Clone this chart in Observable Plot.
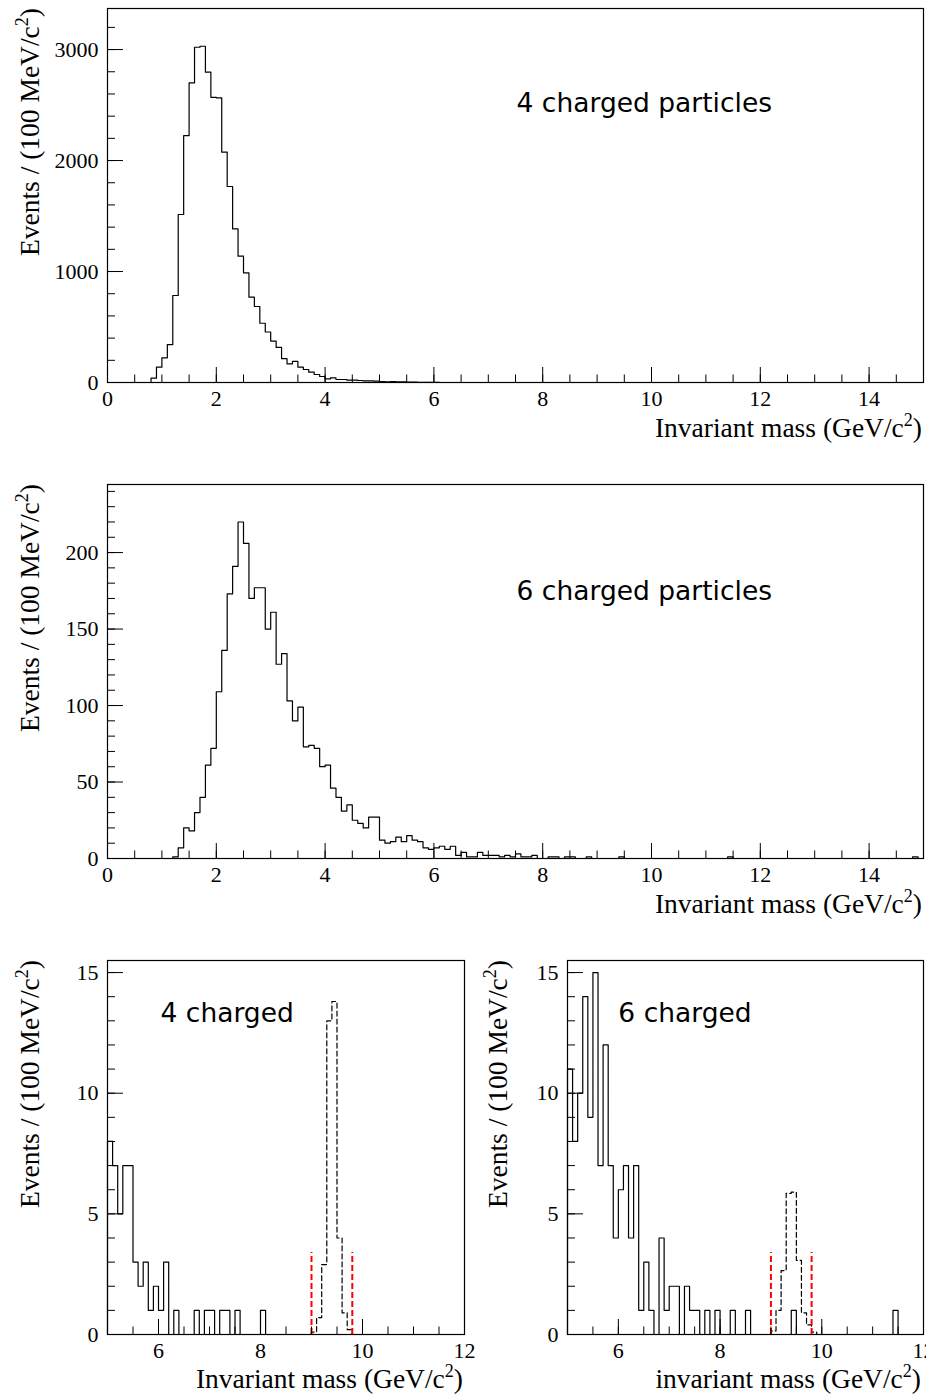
<!DOCTYPE html>
<html><head><meta charset="utf-8">
<script src="https://cdn.jsdelivr.net/npm/d3@7"></script>
<script src="https://cdn.jsdelivr.net/npm/@observablehq/plot@0.6"></script>
<style>
body{margin:0;background:#fff;}
#root{position:relative;width:926px;height:1398px;overflow:hidden;background:#fff;}
#root svg{position:absolute;}
</style></head><body><div id="root"></div>
<script>
// ---------------- data ----------------
const binWidth = 0.1;

// Top panel: 4 charged particles (events per 100 MeV bin)
const top4Start = 0.8;
const top4Counts = [39,138,222,342,784,1514,2225,2700,3021,3030,
  2796,2570,2565,2075,1766,1385,1138,988,769,685,
  534,455,373,316,215,168,190,138,117,93,
  72,54,33,42,27,27,21,21,18,15,
  15,12,9,6,9,6,6,3,3,2,
  2,1,1];

// Middle panel: 6 charged particles
const top6Start = 1.2;
const top6Counts = [1,7,20,18,30,40,61,72,109,136,
  173,191,220,206,170,177,177,150,161,127,
  134,103,90,99,73,74,72,60,61,46,
  40,31,35,25,23,20,27,27,12,10,
  11,14,11,15,12,11,7,6,7,8,
  6,8,2,4,1,1,4,2,2,2,
  1,2,1,3,1,1,2,0,0,1,
  1,0,1,1,0,0,1,0,0,0,
  0,0,1];
const top6FarX = [11.4, 14.8];
const top6FarN = [1, 1];

// Bottom-left: 4 charged, zoom 5-12 GeV
const bot4Start = 5.0;
const bot4Counts = [8,7,5,7,7,3,2,3,1,2,
  1,3,0,1,0,0,0,1,0,1,
  1,0,1,1,0,1,0,0,0,0,
  1];
const bot4McStart = 9.0;
const bot4Mc = [0.1,0.7,2.9,13.0,13.8,4.0,0.9,0.2];

// Bottom-right: 6 charged, zoom 5-12 GeV
const bot6Start = 5.0;
const bot6Counts = [11,8,10,14,9,15,7,12,7,4,
  6,7,4,7,1,3,1,0,4,1,
  2,2,0,2,1,1,0,1,0,1,
  0,0,1,0,0,1,0,0,0,0,
  0,0,0,0,1,0,0,0,0,0,
  0,0,0,0,0,0,0,0,0,0,
  0,0,0,0,1];
const bot6McStart = 9.0;
const bot6Mc = [0.15,1.0,2.65,5.85,5.9,3.07,0.9,0.4,0.1];

// signal window cuts (red dashed)
const cutX = [9.0, 9.8];
const cutTop = 3.4;

// tick labels
const xTicksFull = [0,2,4,6,8,10,12,14];
const xTicksZoom = [6,8,10,12];
const yTicks4 = [0,1000,2000,3000];
const yTicks6 = [0,50,100,150,200];
const yTicksZoom = [0,5,10,15];

const labels = {
  top4: "4 charged particles",
  top6: "6 charged particles",
  bot4: "4 charged",
  bot6: "6 charged",
  xTitle: "Invariant mass (GeV/c",
  xTitleLower: "invariant mass (GeV/c",
  yTitle: "Events / (100 MeV/c"
};

// ---------------- helpers ----------------
const r1 = v => Math.round(v * 100) / 100;

function histPoints(start, counts, lo, hi, extraX = [], extraN = []) {
  let pts = [];
  if (lo === undefined) {
    pts.push({x: r1(start), y: 0});
    counts.forEach((c, i) => pts.push({x: r1(start + i * binWidth), y: c}));
    const end = r1(start + counts.length * binWidth);
    pts.push({x: end, y: counts[counts.length - 1]});
    pts.push({x: end, y: 0});
    return pts;
  }
  const n = Math.round((hi - lo) / binWidth);
  const vals = new Map();
  counts.forEach((c, i) => vals.set(Math.round((start - lo) / binWidth) + i, c));
  extraX.forEach((x, j) => vals.set(Math.round((x - lo) / binWidth), extraN[j]));
  pts.push({x: lo, y: 0});
  for (let i = 0; i < n; i++) pts.push({x: r1(lo + i * binWidth), y: vals.get(i) || 0});
  pts.push({x: hi, y: vals.get(n - 1) || 0});
  pts.push({x: hi, y: 0});
  return pts;
}

function minorTicks(lo, hi, step) {
  return d3.range(Math.round((hi - lo) / step) + 1).map(i => r1(lo + i * step));
}

const serif = "Liberation Serif";
const sans = "DejaVu Sans";
const titleSize = 27.5;

function addTitles(svg, o) {
  const s = d3.select(svg);
  const t = s.append("text").attr("x", o.xTitleX).attr("y", o.xTitleY)
    .attr("text-anchor", "end").attr("font-family", serif).attr("font-size", titleSize).attr("fill", "black");
  t.append("tspan").text(o.xTitle);
  t.append("tspan").attr("font-size", 18).attr("dy", -11).text("2");
  t.append("tspan").attr("dy", 11).text(")");
  const g = s.append("g").attr("transform", `translate(${o.yTitleX},${o.yTitleY}) rotate(-90)`);
  const yt = g.append("text").attr("x", 0).attr("y", 0).attr("text-anchor", "end")
    .attr("font-family", serif).attr("font-size", titleSize).attr("fill", "black");
  yt.append("tspan").text(labels.yTitle);
  yt.append("tspan").attr("font-size", 18).attr("dy", -11).text("2");
  yt.append("tspan").attr("dy", 11).text(")");
}

function panel(o) {
  const [ml, mr, mt, mb] = o.margins;
  const pxX = (o.width - ml - mr) / (o.xDomain[1] - o.xDomain[0]);
  const pxY = (o.height - mt - mb) / (o.yDomain[1] - o.yDomain[0]);
  const x0 = o.xDomain[0], y0 = o.yDomain[0];
  const marks = [
    ...o.marks,
    Plot.ruleX(o.xMinor, {x: d => d, y1: y0, y2: y0 + 7.5 / pxY, stroke: "black", strokeWidth: 1}),
    Plot.ruleX(o.xMajor, {x: d => d, y1: y0, y2: y0 + 15 / pxY, stroke: "black", strokeWidth: 1}),
    Plot.ruleY(o.yMinor, {y: d => d, x1: x0, x2: x0 + 8 / pxX, stroke: "black", strokeWidth: 1}),
    Plot.ruleY(o.yMajor, {y: d => d, x1: x0, x2: x0 + 16 / pxX, stroke: "black", strokeWidth: 1}),
    Plot.axisX({ticks: o.xMajor, tickSize: 0, tickPadding: 8, label: null, tickFormat: d => String(d)}),
    Plot.axisY({ticks: o.yMajor, tickSize: 0, tickPadding: 9, label: null, tickFormat: d => String(d)}),
    Plot.frame({stroke: "black", strokeWidth: 1.2})
  ];
  const svg = Plot.plot({
    width: o.width, height: o.height,
    marginLeft: ml, marginRight: mr, marginTop: mt, marginBottom: mb,
    x: {domain: o.xDomain},
    y: {domain: o.yDomain},
    style: {fontFamily: serif, fontSize: "22px", background: "transparent", color: "black", overflow: "visible"},
    marks
  });
  svg.style.left = o.left + "px";
  svg.style.top = o.top + "px";
  addTitles(svg, o);
  document.getElementById("root").appendChild(svg);
}

const histStyle = {x: "x", y: "y", curve: "step-after", stroke: "black", strokeWidth: 1.2};
const mcStyle = {x: "x", y: "y", curve: "step-after", stroke: "black", strokeWidth: 1.2, strokeDasharray: "5,3"};
const annStyle = {textAnchor: "start", fontFamily: sans, fontSize: 26.5, fill: "black"};

// ---------------- panel 1 ----------------
panel({
  left: 0, top: 0, width: 926, height: 476, margins: [107, 3, 8, 94],
  xDomain: [0, 15], yDomain: [0, 3370],
  xMajor: xTicksFull, xMinor: minorTicks(0, 15, 0.5),
  yMajor: yTicks4, yMinor: minorTicks(0, 3200, 200),
  xTitle: labels.xTitle, xTitleX: 922, xTitleY: 437, yTitleX: 39, yTitleY: 8,
  marks: [
    Plot.line(histPoints(top4Start, top4Counts, 0, 15), histStyle),
    Plot.text([labels.top4], {x: 7.52, y: 2518, text: d => d, ...annStyle})
  ]
});

// ---------------- panel 2 ----------------
panel({
  left: 0, top: 476, width: 926, height: 476, margins: [107, 3, 8, 94],
  xDomain: [0, 15], yDomain: [0, 244.5],
  xMajor: xTicksFull, xMinor: minorTicks(0, 15, 0.5),
  yMajor: yTicks6, yMinor: minorTicks(0, 240, 10),
  xTitle: labels.xTitle, xTitleX: 922, xTitleY: 437, yTitleX: 39, yTitleY: 8,
  marks: [
    Plot.line(histPoints(top6Start, top6Counts, 0, 15, top6FarX, top6FarN), histStyle),
    Plot.text([labels.top6], {x: 7.52, y: 174.8, text: d => d, ...annStyle})
  ]
});

// ---------------- panel 3 ----------------
panel({
  left: 0, top: 952, width: 470, height: 446, margins: [107, 6, 8, 64],
  xDomain: [5, 12], yDomain: [0, 15.5],
  xMajor: xTicksZoom, xMinor: minorTicks(5, 12, 0.5),
  yMajor: yTicksZoom, yMinor: minorTicks(0, 15, 1),
  xTitle: labels.xTitle, xTitleX: 463, xTitleY: 436, yTitleX: 39, yTitleY: 8,
  marks: [
    Plot.line(histPoints(bot4Start, bot4Counts, 5, 12), histStyle),
    Plot.line(histPoints(bot4McStart, bot4Mc), mcStyle),
    Plot.ruleX(cutX, {x: d => d, y1: 0, y2: cutTop, stroke: "#ff0000", strokeWidth: 2, strokeDasharray: "6,3"}),
    Plot.text([labels.bot4], {x: 6.04, y: 13.3, text: d => d, ...annStyle})
  ]
});

// ---------------- panel 4 ----------------
panel({
  left: 470, top: 952, width: 456, height: 446, margins: [97, 3, 8, 64],
  xDomain: [5, 12], yDomain: [0, 15.5],
  xMajor: xTicksZoom, xMinor: minorTicks(5, 12, 0.5),
  yMajor: yTicksZoom, yMinor: minorTicks(0, 15, 1),
  xTitle: labels.xTitleLower, xTitleX: 451, xTitleY: 436, yTitleX: 37, yTitleY: 8,
  marks: [
    Plot.line(histPoints(bot6Start, bot6Counts, 5, 12), histStyle),
    Plot.line(histPoints(bot6McStart, bot6Mc), mcStyle),
    Plot.ruleX(cutX, {x: d => d, y1: 0, y2: cutTop, stroke: "#ff0000", strokeWidth: 2, strokeDasharray: "6,3"}),
    Plot.text([labels.bot6], {x: 6.0, y: 13.3, text: d => d, ...annStyle})
  ]
});
</script>
</body></html>
